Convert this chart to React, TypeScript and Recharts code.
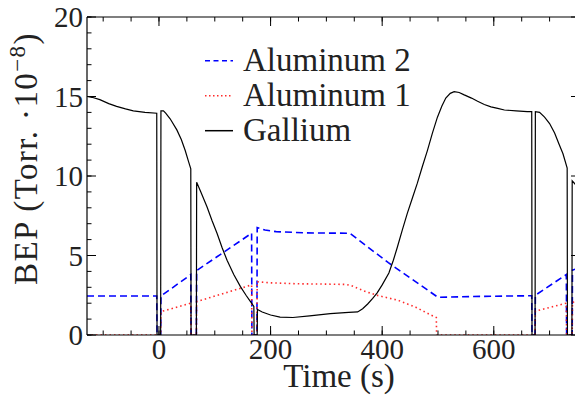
import React from 'react';
import { LineChart, Line, XAxis, YAxis, Legend, Label } from 'recharts';

const FONT = "'Liberation Serif', 'Times New Roman', serif";

// Gallium BEP (Torr·1e-8) vs time (s)
const galliumTime = [
  -129, -120, -106, -90, -76, -60, -46, -25, -4, -3.5, 3, 3.5, 8, 12, 20, 32, 40, 47, 53, 57,
  57.5, 67, 67.5, 75, 86, 95, 104, 113, 122, 134, 146, 156, 164, 170, 170.5, 176, 176.5, 185,
  200, 217, 240, 270, 307, 340, 356, 365, 374, 383, 391, 400, 412, 420, 427, 436, 445, 454,
  463, 472, 481, 490, 499, 507, 514, 522, 529, 538, 547, 560, 571, 583, 595, 607, 619, 640,
  660, 668, 668.5, 674, 674.5, 682, 691, 700, 709, 717, 724, 731.5, 732, 740, 740.5, 748, 755,
];
const galliumBEP = [
  15.0, 14.95, 14.8, 14.55, 14.38, 14.22, 14.1, 14.0, 13.95, 0, 0, 14.1, 14.1, 13.95, 13.6, 12.9, 12.3, 11.6, 10.9, 10.45,
  0, 0, 9.6, 9.0, 8.07, 7.2, 6.4, 5.5, 4.7, 3.8, 3.04, 2.5, 2.1, 1.8, 0, 0, 1.6, 1.45,
  1.26, 1.12, 1.1, 1.2, 1.35, 1.42, 1.45, 1.65, 1.95, 2.3, 2.65, 3.15, 3.9, 4.7, 5.5, 6.6, 7.65, 8.6,
  9.55, 10.6, 11.6, 12.7, 13.7, 14.4, 14.9, 15.2, 15.3, 15.25, 15.1, 14.9, 14.7, 14.5, 14.35, 14.25, 14.15, 14.1,
  14.05, 14.05, 0, 0, 14.05, 14.0, 13.7, 13.3, 12.7, 12.0, 11.4, 10.5, 0, 0, 9.7, 9.4, 9.0,
];

// Aluminum 2
const aluminum2Time = [
  -129, -4, -3.5, 3, 3.5, 57, 57.5, 67, 67.5, 166, 166.5, 175.5, 176, 190, 210, 265, 342,
  411, 500, 560, 668, 668.5, 674, 674.5, 730, 730.5, 740.5, 741, 755,
];
const aluminum2BEP = [
  2.45, 2.45, 0, 0, 2.45, 3.8, 0, 0, 4.05, 6.4, 0, 0, 6.75, 6.6, 6.5, 6.42, 6.4,
  4.55, 2.37, 2.42, 2.47, 0, 0, 2.5, 3.8, 0, 0, 4.08, 4.25,
];

// Aluminum 1
const aluminum1Time = [
  -129, 3, 3.5, 57, 57.5, 67, 67.5, 166, 166.5, 175.5, 176, 200, 250, 300, 335, 345, 367,
  390, 427, 460, 487, 497, 497.5, 668, 674, 674.5, 730, 730.5, 740.5, 741, 755,
];
const aluminum1BEP = [
  0, 0, 1.47, 2.0, 0, 0, 2.1, 3.15, 0, 0, 3.35, 3.28, 3.22, 3.2, 3.18, 3.1, 2.78,
  2.5, 2.2, 1.75, 1.26, 1.1, 0, 0, 0, 1.5, 2.0, 0, 0, 2.06, 2.15,
];

const seriesNames = ['Aluminum 2', 'Aluminum 1', 'Gallium'];
const xMajorTicks = [0, 200, 400, 600];
const xMinorTicks = [-100, -50, 0, 50, 100, 150, 200, 250, 300, 350, 400, 450, 500, 550, 600, 650, 700, 750];
const yMajorTicks = [0, 5, 10, 15, 20];
const yMinorTicks = [0, 1, 2, 3, 4, 5, 6, 7, 8, 9, 10, 11, 12, 13, 14, 15, 16, 17, 18, 19, 20];
const xDomain = [-129, 754.5];
const yDomain = [0, 20];

const zip = (t: number[], v: number[]) => t.map((x, i) => ({ t: x, v: v[i] }));

const aluminum2Data = zip(aluminum2Time, aluminum2BEP);
const aluminum1Data = zip(aluminum1Time, aluminum1BEP);
const galliumData = zip(galliumTime, galliumBEP);

const STYLES: Record<string, { color: string; dash?: string; legendDash?: string; width: number }> = {
  'Aluminum 2': { color: '#0000ff', dash: '7 4', legendDash: '5 3.5', width: 1.6 },
  'Aluminum 1': { color: '#ff2a2a', dash: '1.5 3', legendDash: '1.5 2.5', width: 1.6 },
  Gallium: { color: '#000000', width: 1.2 },
};

const EmptyTick = () => <g />;

const renderLegend = (props: any) => {
  const payload = [...(props.payload || [])].sort(
    (a: any, b: any) => seriesNames.indexOf(a.value) - seriesNames.indexOf(b.value)
  );
  return (
    <svg width={240} height={110} style={{ display: 'block' }}>
      {payload.map((p: any, i: number) => {
        const s = STYLES[p.value] || { color: p.color, width: 1.5 };
        const ly = 20.7 + i * 35;
        return (
          <g key={p.value}>
            <line x1={15} x2={43} y1={ly} y2={ly} stroke={s.color} strokeWidth={1.5} strokeDasharray={s.legendDash} />
            <text x={53} y={ly + 10} fontFamily={FONT} fontSize={33} fill="#222">{p.value}</text>
          </g>
        );
      })}
    </svg>
  );
};

const tickLineStyle = { stroke: '#000', strokeWidth: 1 };
const THIN = 0.01;

export default function App() {
  return (
    <div style={{ position: 'absolute', left: 0, top: 0, width: 575, height: 397, overflow: 'hidden', background: '#fff' }}>
      <LineChart width={581} height={397} margin={{ top: 17, right: 1, bottom: 0, left: 0 }}>
        <XAxis
          xAxisId={0}
          dataKey="t"
          type="number"
          domain={xDomain}
          allowDataOverflow
          ticks={xMajorTicks}
          interval={0}
          height={62}
          tickLine={false}
          tickSize={0}
          tickMargin={3.5}
          axisLine={{ stroke: '#000', strokeWidth: 1.2 }}
          tick={{ fontSize: 29, fill: '#222', fontFamily: FONT }}
        >
          <Label
            content={() => (
              <text x={339} y={387} textAnchor="middle" fontFamily={FONT} fontSize={33} fill="#222">Time (s)</text>
            )}
          />
        </XAxis>
        <XAxis xAxisId="bM" type="number" dataKey="t" domain={xDomain} allowDataOverflow mirror height={THIN}
          ticks={xMajorTicks} interval={0} tick={EmptyTick} tickSize={9} axisLine={false} tickLine={tickLineStyle} />
        <XAxis xAxisId="bm" type="number" dataKey="t" domain={xDomain} allowDataOverflow mirror height={THIN}
          ticks={xMinorTicks} interval={0} tick={EmptyTick} tickSize={4.5} axisLine={false} tickLine={tickLineStyle} />
        <XAxis xAxisId="tM" orientation="top" type="number" dataKey="t" domain={xDomain} allowDataOverflow mirror height={THIN}
          ticks={xMajorTicks} interval={0} tick={EmptyTick} tickSize={9} axisLine={{ stroke: '#000', strokeWidth: 1.2 }} tickLine={tickLineStyle} />
        <XAxis xAxisId="tm" orientation="top" type="number" dataKey="t" domain={xDomain} allowDataOverflow mirror height={THIN}
          ticks={xMinorTicks} interval={0} tick={EmptyTick} tickSize={4.5} axisLine={false} tickLine={tickLineStyle} />

        <YAxis
          yAxisId={0}
          type="number"
          domain={yDomain}
          allowDataOverflow
          ticks={yMajorTicks}
          interval={0}
          width={87}
          tickLine={false}
          tickSize={0}
          tickMargin={4}
          axisLine={{ stroke: '#000', strokeWidth: 1.2 }}
          tick={{ fontSize: 29, fill: '#222', fontFamily: FONT }}
        >
          <Label
            content={() => (
              <text
                x={36.5}
                y={158.5}
                textAnchor="middle"
                transform="rotate(-90, 36.5, 158.5)"
                fontFamily={FONT}
                fontSize={33}
                letterSpacing={1.4}
                fill="#222"
              >
                BEP (Torr. ·10<tspan dy={-12} fontSize={23}>−8</tspan><tspan dy={12}>)</tspan>
              </text>
            )}
          />
        </YAxis>
        <YAxis yAxisId="lM" type="number" domain={yDomain} allowDataOverflow mirror width={THIN}
          ticks={yMajorTicks} interval={0} tick={EmptyTick} tickSize={9} axisLine={false} tickLine={tickLineStyle} />
        <YAxis yAxisId="lm" type="number" domain={yDomain} allowDataOverflow mirror width={THIN}
          ticks={yMinorTicks} interval={0} tick={EmptyTick} tickSize={4.5} axisLine={false} tickLine={tickLineStyle} />
        <YAxis yAxisId="rM" orientation="right" type="number" domain={yDomain} allowDataOverflow mirror width={THIN}
          ticks={yMajorTicks} interval={0} tick={EmptyTick} tickSize={9} axisLine={{ stroke: '#000', strokeWidth: 1.2 }} tickLine={tickLineStyle} />
        <YAxis yAxisId="rm" orientation="right" type="number" domain={yDomain} allowDataOverflow mirror width={THIN}
          ticks={yMinorTicks} interval={0} tick={EmptyTick} tickSize={4.5} axisLine={false} tickLine={tickLineStyle} />

        <Legend
          content={renderLegend}
          layout="vertical"
          align="center"
          verticalAlign="middle"
          wrapperStyle={{ left: 190, top: 40, width: 240, height: 110 }}
        />

        <Line
          name="Aluminum 2"
          data={aluminum2Data}
          dataKey="v"
          type="linear"
          stroke={STYLES['Aluminum 2'].color}
          strokeWidth={STYLES['Aluminum 2'].width}
          strokeDasharray={STYLES['Aluminum 2'].dash}
          dot={false}
          activeDot={false}
          isAnimationActive={false}
        />
        <Line
          name="Aluminum 1"
          data={aluminum1Data}
          dataKey="v"
          type="linear"
          stroke={STYLES['Aluminum 1'].color}
          strokeWidth={STYLES['Aluminum 1'].width}
          strokeDasharray={STYLES['Aluminum 1'].dash}
          dot={false}
          activeDot={false}
          isAnimationActive={false}
        />
        <Line
          name="Gallium"
          data={galliumData}
          dataKey="v"
          type="linear"
          stroke={STYLES.Gallium.color}
          strokeWidth={STYLES.Gallium.width}
          dot={false}
          activeDot={false}
          isAnimationActive={false}
        />
      </LineChart>
    </div>
  );
}
